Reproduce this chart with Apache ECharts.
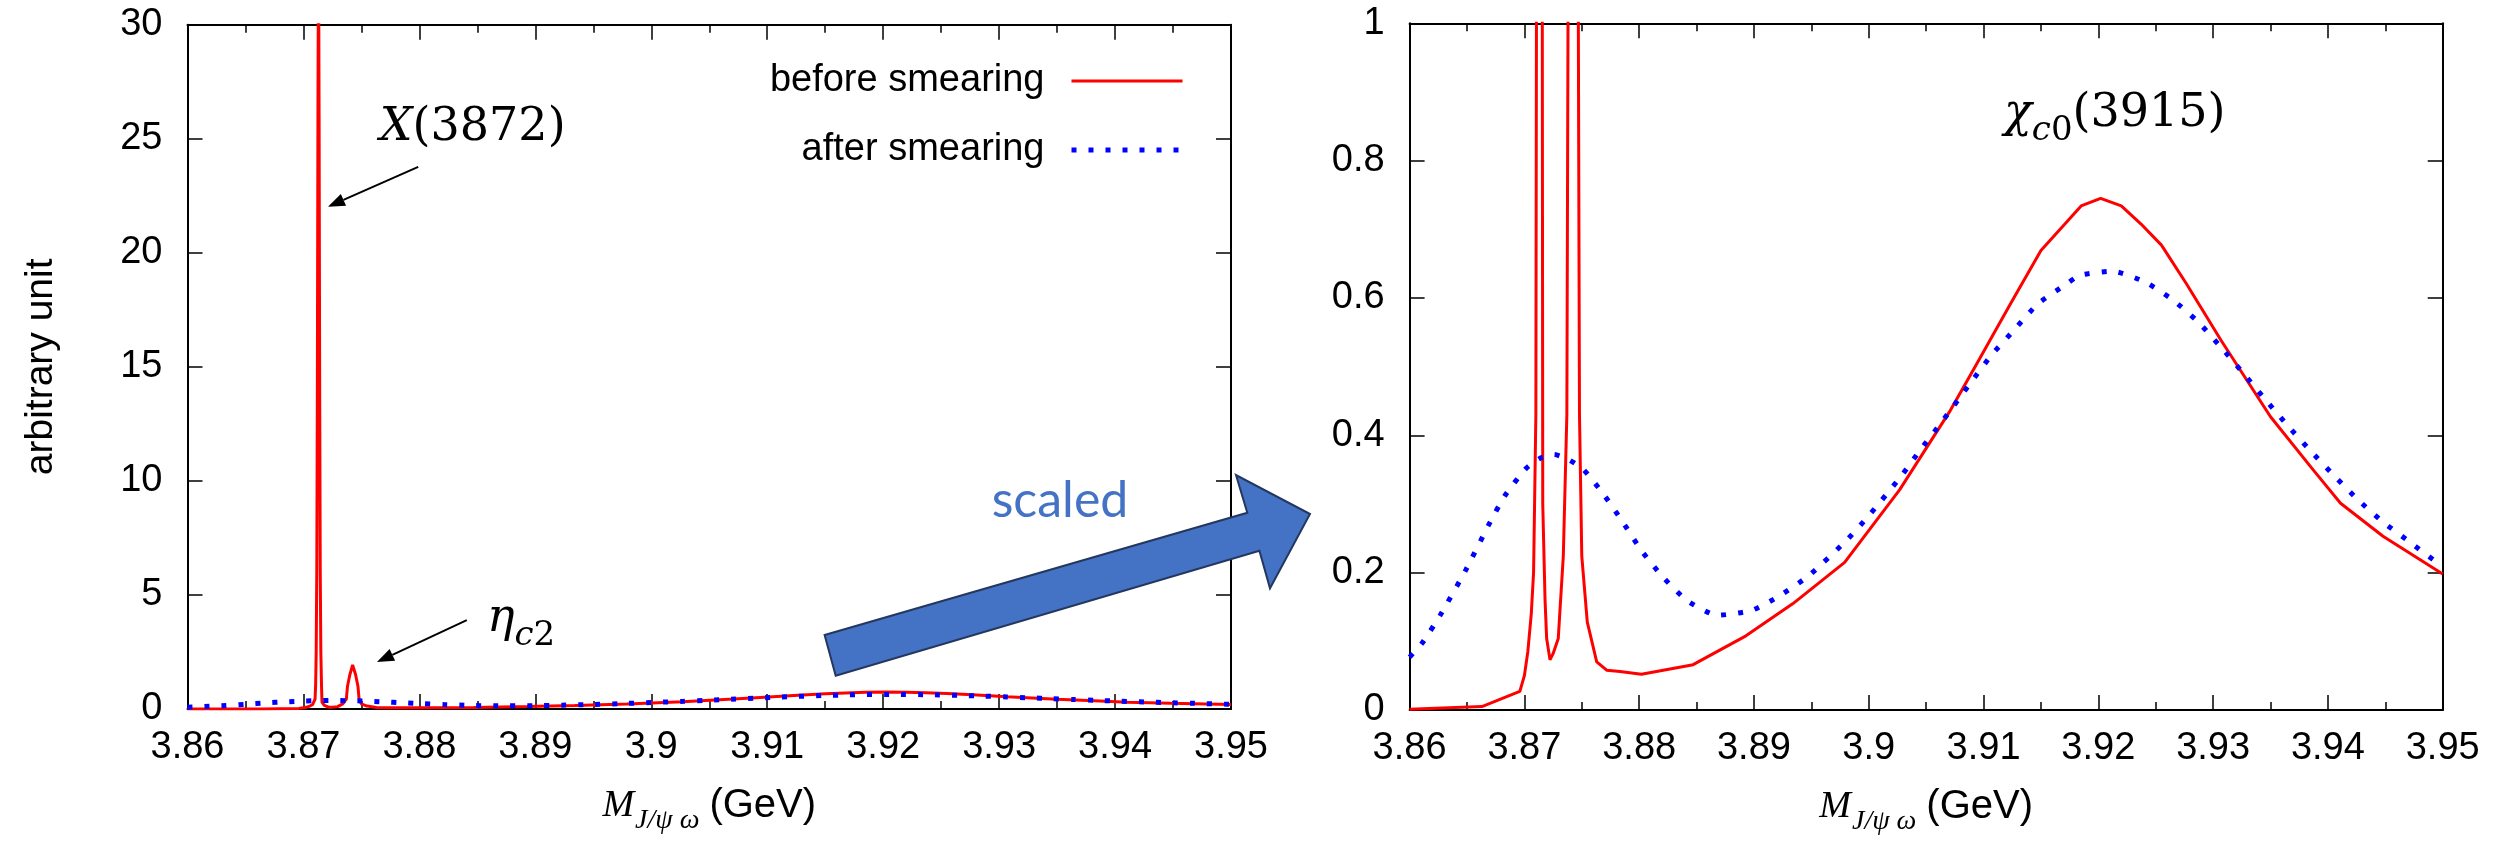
<!DOCTYPE html>
<html>
<head>
<meta charset="utf-8">
<script src="https://cdn.jsdelivr.net/npm/echarts@6/dist/echarts.min.js"></script>
<style>html,body{margin:0;padding:0;background:#fff;}#main{width:2511px;height:841px;}</style>
</head>
<body>
<div id="main"></div>
<script>
// ---------- data ----------
const seriesNames = ['before smearing', 'after smearing'];
const redX = [3.8600, 3.8663, 3.8696, 3.8700, 3.8703, 3.8706, 3.8708, 3.8710, 3.87105, 3.8711, 3.87115, 3.8712, 3.87125, 3.8713, 3.87135, 3.8714, 3.87145, 3.8715, 3.87156, 3.8716, 3.8718, 3.87194, 3.87223, 3.8725, 3.87295, 3.87339, 3.8737, 3.8738, 3.8740, 3.87424, 3.8745, 3.8747, 3.8748, 3.8750, 3.87548, 3.8763, 3.87717, 3.87833, 3.8802, 3.8847, 3.8893, 3.8934, 3.8979, 3.9027, 3.9071, 3.9094, 3.9123, 3.9150, 3.9185, 3.9202, 3.9220, 3.9237, 3.9255, 3.9277, 3.9307, 3.9350, 3.9387, 3.9411, 3.9448, 3.9500];
const redY = [0.001, 0.005, 0.027, 0.05, 0.085, 0.14, 0.2, 0.43, 1.0, 2.5, 6, 14, 26, 34, 26, 14, 6, 2.5, 1.0, 0.3, 0.16, 0.104, 0.073, 0.082, 0.104, 0.224, 0.43, 1.0, 1.5, 1.93, 1.5, 1.0, 0.43, 0.224, 0.128, 0.07, 0.058, 0.056, 0.052, 0.066, 0.108, 0.155, 0.215, 0.321, 0.436, 0.504, 0.59, 0.669, 0.734, 0.745, 0.734, 0.708, 0.677, 0.62, 0.538, 0.427, 0.35, 0.301, 0.253, 0.198];
const blueX = [3.8600, 3.8611, 3.8627, 3.8649, 3.8669, 3.8683, 3.8701, 3.8713, 3.8726, 3.8738, 3.8751, 3.8769, 3.8786, 3.8802, 3.8821, 3.8842, 3.8868, 3.8898, 3.8923, 3.8948, 3.8980, 3.9000, 3.9028, 3.9045, 3.9063, 3.9089, 3.9107, 3.9127, 3.9147, 3.9171, 3.9184, 3.9212, 3.9241, 3.9265, 3.9287, 3.9307, 3.9326, 3.9345, 3.9364, 3.9384, 3.9405, 3.9425, 3.9447, 3.9471, 3.9494, 3.9500];
const blueY = [0.077, 0.0975, 0.139, 0.204, 0.27, 0.312, 0.351, 0.366, 0.372, 0.365, 0.351, 0.314, 0.273, 0.232, 0.193, 0.159, 0.138, 0.145, 0.167, 0.196, 0.246, 0.283, 0.34, 0.379, 0.418, 0.477, 0.517, 0.554, 0.591, 0.619, 0.633, 0.639, 0.623, 0.597, 0.565, 0.528, 0.491, 0.453, 0.416, 0.379, 0.342, 0.308, 0.275, 0.245, 0.216, 0.21];
const xRange = [3.86, 3.95];
const xStep = 0.01;
const leftYRange = [0, 30];
const leftYStep = 5;
const rightYRange = [0, 1];
const rightYStep = 0.2;
const yAxisTitle = 'arbitrary unit';
const annotations = {
  x3872: { at: [3.8846, 25.48], tail: [3.8799, 23.77], tip: [3.87211, 22.02] },
  etac2: { at: [3.88583, 3.95], tail: [3.88409, 3.90], tip: [3.87634, 2.06] },
  chic0: { at: [3.91178, 0.868] },
  scaled: 'scaled'
};

// ---------- helpers ----------
const zip = (xs, ys) => xs.map((x, i) => [x, ys[i]]);
const redData = zip(redX, redY);
const blueData = zip(blueX, blueY);

const SANS = 'Liberation Sans';
const SERIF = 'DejaVu Serif';
const FS = 38;
const RED_LINE = { color: '#ff0000', width: 3 };
const BLUE_LINE = { color: '#0000ff', width: 5, type: [5, 12], cap: 'butt' };

function xAxisDef(grid, pos) {
  const main = pos === 'bottom';
  return {
    type: 'value', gridIndex: grid, position: pos,
    min: xRange[0], max: xRange[1], interval: xStep,
    axisLine: { show: true, onZero: false, lineStyle: { color: '#000', width: 2 } },
    axisTick: { show: true, inside: true, length: 15, lineStyle: { color: '#000', width: 1.5 } },
    minorTick: { show: true, splitNumber: 2, length: 8, lineStyle: { color: '#000', width: 1.5 } },
    splitLine: { show: false },
    axisLabel: { show: main, color: '#000', fontSize: FS, fontFamily: SANS, margin: 20 },
    name: main ? '{m|M}{s|J/ψ ω}{g|(GeV)}' : '',
    nameLocation: 'middle', nameGap: 74,
    nameTextStyle: {
      rich: {
        m: { fontFamily: 'Liberation Serif', fontStyle: 'italic', fontSize: 38, lineHeight: 46, color: '#000' },
        s: { fontFamily: 'Liberation Serif', fontStyle: 'italic', fontSize: 28, lineHeight: 26, padding: [30, 0, 0, 1], color: '#000' },
        g: { fontFamily: SANS, fontSize: 40, lineHeight: 46, padding: [0, 0, 0, 10], color: '#000' }
      }
    }
  };
}
function yAxisDef(grid, pos, range, step, name) {
  const main = pos === 'left';
  return {
    type: 'value', gridIndex: grid, position: pos,
    min: range[0], max: range[1], interval: step,
    axisLine: { show: true, onZero: false, lineStyle: { color: '#000', width: 2 } },
    axisTick: { show: true, inside: true, length: 15, lineStyle: { color: '#000', width: 1.5 } },
    minorTick: { show: false },
    splitLine: { show: false },
    axisLabel: { show: main, color: '#000', fontSize: FS, fontFamily: SANS, margin: 25 },
    name: main && name ? name : '',
    nameLocation: 'middle', nameRotate: 90, nameGap: 127,
    nameTextStyle: { color: '#000', fontSize: 39, fontFamily: SANS }
  };
}
function redSeries(xi, yi) {
  return { name: seriesNames[0], type: 'line', xAxisIndex: xi, yAxisIndex: yi, data: redData,
    symbol: 'none', clip: true, z: 3, lineStyle: RED_LINE, itemStyle: { color: '#ff0000' } };
}
function blueSeries(xi, yi) {
  return { name: seriesNames[1], type: 'line', xAxisIndex: xi, yAxisIndex: yi, data: blueData,
    symbol: 'none', clip: true, smooth: 0.2, z: 4, lineStyle: BLUE_LINE, itemStyle: { color: '#0000ff' } };
}

const option = {
  animation: false,
  backgroundColor: '#fff',
  grid: [
    { left: 187.5, right: 1280, top: 24.7, bottom: 132 },
    { left: 1409.6, right: 68.3, top: 23.3, bottom: 125.7 }
  ],
  xAxis: [xAxisDef(0, 'bottom'), xAxisDef(0, 'top'), xAxisDef(1, 'bottom'), xAxisDef(1, 'top')],
  yAxis: [
    yAxisDef(0, 'left', leftYRange, leftYStep, yAxisTitle),
    yAxisDef(0, 'right', leftYRange, leftYStep, ''),
    yAxisDef(1, 'left', rightYRange, rightYStep, ''),
    yAxisDef(1, 'right', rightYRange, rightYStep, '')
  ],
  legend: {
    data: [
      { name: seriesNames[0], lineStyle: RED_LINE },
      { name: seriesNames[1], lineStyle: BLUE_LINE }
    ],
    orient: 'vertical', align: 'right',
    right: 1321, top: 56, itemGap: 29, itemWidth: 111, itemHeight: 2,
    itemStyle: { opacity: 0, color: 'transparent', borderWidth: 0 },
    textStyle: { color: '#000', fontSize: FS, fontFamily: SANS, lineHeight: 40, padding: [0, 22, 0, 0] }
  },
  series: [redSeries(0, 0), blueSeries(0, 0), redSeries(2, 2), blueSeries(2, 2)]
};

const chart = echarts.init(document.getElementById('main'));
chart.setOption(option);

const L = (p) => chart.convertToPixel({ seriesIndex: 0 }, p);
const R = (p) => chart.convertToPixel({ seriesIndex: 2 }, p);

function arrow(t, h) {
  const dx = h[0] - t[0], dy = h[1] - t[1];
  const len = Math.sqrt(dx * dx + dy * dy);
  const ux = dx / len, uy = dy / len;
  const hl = 17, hw = 6.5;
  const bx = h[0] - ux * hl, by = h[1] - uy * hl;
  return [
    { type: 'line', shape: { x1: t[0], y1: t[1], x2: bx, y2: by }, style: { stroke: '#000', lineWidth: 2 }, z: 10 },
    { type: 'polygon', shape: { points: [[h[0], h[1]], [bx - uy * hw, by + ux * hw], [bx + uy * hw, by - ux * hw]] }, style: { fill: '#000' }, z: 10 }
  ];
}

const richMath = {
  it: { fontFamily: SERIF, fontStyle: 'italic', fontSize: 46, lineHeight: 66, color: '#000' },
  n: { fontFamily: SERIF, fontSize: 46, lineHeight: 66, color: '#000' },
  si: { fontFamily: SERIF, fontStyle: 'italic', fontSize: 34, lineHeight: 32, padding: [34, 0, 0, 0], color: '#000' },
  sn: { fontFamily: SERIF, fontSize: 34, lineHeight: 32, padding: [34, 0, 0, 0], color: '#000' }
};

const a = annotations;
const pX = L(a.x3872.at), pE = L(a.etac2.at), pC = R(a.chic0.at);
const graphics = [].concat(
  [{ type: 'text', x: pX[0], y: pX[1], style: { text: '{it|X}{n|(3872)}', rich: richMath, align: 'center', verticalAlign: 'middle' }, z: 10 }],
  arrow(L(a.x3872.tail), L(a.x3872.tip)),
  [{ type: 'text', x: pE[0], y: pE[1], style: { text: '{it|η}{si|c}{sn|2}', rich: richMath, align: 'left', verticalAlign: 'middle' }, z: 10 }],
  arrow(L(a.etac2.tail), L(a.etac2.tip)),
  [{ type: 'text', x: pC[0], y: pC[1], style: { text: '{it|χ}{si|c}{sn|0}{n|(3915)}', rich: richMath, align: 'left', verticalAlign: 'middle' }, z: 10 }],
  [{ type: 'polygon', z: 20,
     shape: { points: [[824.6, 635], [1247.3, 512.7], [1236, 475], [1310, 514], [1270, 588.3], [1259.4, 550.7], [835.7, 675.7]] },
     style: { fill: '#4472C4', stroke: '#24375e', lineWidth: 2 } },
   { type: 'text', x: 1060, y: 501, z: 20,
     style: { text: a.scaled, fontFamily: 'Lato', fontSize: 50, fill: '#4472C4', align: 'center', verticalAlign: 'middle' } }]
);
chart.setOption({ graphic: graphics });
</script>
</body>
</html>
